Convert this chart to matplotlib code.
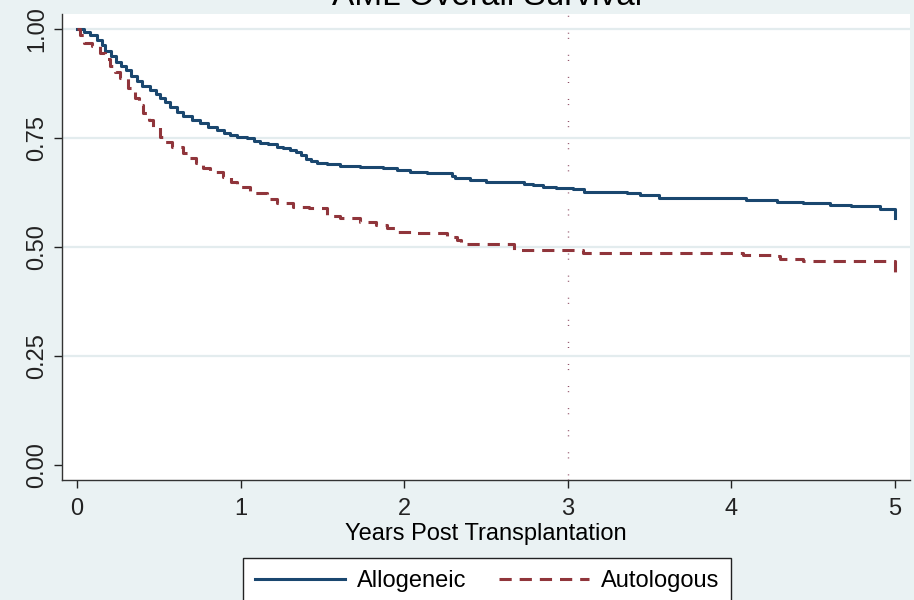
import matplotlib.pyplot as plt
from matplotlib.lines import Line2D

plt.rcParams['font.family'] = ['Liberation Sans', 'DejaVu Sans']

# Kaplan-Meier step estimates, years vs. surviving fraction
allo_years = [0.00, 0.04, 0.08, 0.12, 0.15, 0.17, 0.21, 0.24, 0.27, 0.30,
              0.33, 0.365, 0.40, 0.446, 0.48, 0.507, 0.54, 0.568, 0.61, 0.65,
              0.70, 0.752, 0.80, 0.854, 0.90, 0.935, 0.98, 1.037, 1.08, 1.12,
              1.17, 1.22, 1.26, 1.30, 1.34, 1.37, 1.40, 1.43, 1.465, 1.526,
              1.61, 1.73, 1.872, 1.954, 2.035, 2.137, 2.29, 2.31, 2.40, 2.50,
              2.73, 2.79, 2.85, 2.93, 3.03, 3.10, 3.36, 3.44, 3.56, 4.09,
              4.28, 4.44, 4.60, 4.73, 4.91, 5.00]
allo_surv = [1.000, 0.992, 0.985, 0.975, 0.962, 0.950, 0.937, 0.925, 0.915, 0.905,
             0.893, 0.880, 0.870, 0.860, 0.850, 0.841, 0.832, 0.822, 0.810, 0.800,
             0.791, 0.784, 0.776, 0.768, 0.762, 0.757, 0.753, 0.749, 0.744, 0.739,
             0.735, 0.730, 0.726, 0.722, 0.717, 0.710, 0.702, 0.697, 0.693, 0.690,
             0.686, 0.683, 0.680, 0.677, 0.672, 0.669, 0.663, 0.658, 0.654, 0.650,
             0.645, 0.642, 0.638, 0.635, 0.632, 0.627, 0.623, 0.619, 0.613, 0.608,
             0.604, 0.600, 0.596, 0.593, 0.588, 0.566]

auto_years = [0.00, 0.02, 0.04, 0.09, 0.14, 0.17, 0.20, 0.23, 0.26, 0.31,
              0.355, 0.38, 0.405, 0.44, 0.467, 0.507, 0.54, 0.579, 0.65, 0.69,
              0.73, 0.77, 0.813, 0.894, 0.94, 0.976, 1.06, 1.08, 1.16, 1.22,
              1.32, 1.42, 1.526, 1.61, 1.73, 1.83, 1.893, 1.954, 2.056, 2.18,
              2.26, 2.32, 2.35, 2.67, 3.09, 4.07, 4.26, 4.30, 4.44, 5.00]
auto_surv = [1.000, 0.985, 0.967, 0.961, 0.944, 0.930, 0.914, 0.900, 0.887, 0.864,
             0.841, 0.825, 0.807, 0.790, 0.776, 0.753, 0.740, 0.730, 0.715, 0.703,
             0.692, 0.682, 0.673, 0.661, 0.650, 0.638, 0.625, 0.623, 0.611, 0.600,
             0.592, 0.589, 0.570, 0.566, 0.558, 0.550, 0.543, 0.535, 0.533, 0.531,
             0.522, 0.516, 0.507, 0.493, 0.486, 0.482, 0.479, 0.472, 0.468, 0.443]

x_ticks = [0, 1, 2, 3, 4, 5]
y_ticks = [0.00, 0.25, 0.50, 0.75, 1.00]
marker_year = 3

navy = '#1a476f'
maroon = '#90353b'
bg = '#eaf2f3'

fig = plt.figure(figsize=(9.14, 6.0), dpi=100, facecolor=bg)
ax = fig.add_axes([62 / 914, 120 / 600, 848 / 914, 466 / 600])
ax.set_facecolor('white')

# light horizontal grid, none at zero
for y in y_ticks[1:]:
    ax.axhline(y, color='#e3ecee', lw=1.6, zorder=0)

ax.axvline(marker_year, color='#8c4a62', lw=1.0,
           linestyle=(0, (0.7, 3.0, 0.7, 11.5)), zorder=1)

ax.plot(allo_years, allo_surv, drawstyle='steps-post', color=navy, lw=2.2,
        label='Allogeneic', zorder=3)
ax.plot(auto_years, auto_surv, drawstyle='steps-post', color=maroon, lw=2.2,
        linestyle=(0, (4.0, 2.6)), label='Autologous', zorder=3)

ax.set_xlim(-0.092, 5.092)
ax.set_ylim(-0.034, 1.034)
ax.set_xticks(x_ticks)
ax.set_yticks(y_ticks)
ax.set_xticklabels([str(v) for v in x_ticks])
ax.set_yticklabels(['%.2f' % v for v in y_ticks], rotation=90, va='center')
ax.tick_params(axis='both', labelsize=17, colors='#222222', length=6, width=1)
ax.tick_params(axis='x', pad=7)
ax.tick_params(axis='y', pad=4)

for side in ['top', 'right']:
    ax.spines[side].set_visible(False)
for side in ['left', 'bottom']:
    ax.spines[side].set_color('#333333')
    ax.spines[side].set_linewidth(1.0)

ax.set_xlabel('Years Post Transplantation', fontsize=17, labelpad=2)

fig.text(487 / 914, 1 - 5 / 600, 'AML Overall Survival', fontsize=24,
         ha='center', va='baseline')

handles = [Line2D([], [], color=navy, lw=2.2),
           Line2D([], [], color=maroon, lw=2.2, linestyle=(0, (4.0, 2.6)))]
leg = fig.legend(handles, ['Allogeneic', 'Autologous'], loc='upper center',
                 bbox_to_anchor=(487 / 914, 1 - 558 / 600), ncol=2,
                 fontsize=17, frameon=True, fancybox=False, framealpha=1,
                 edgecolor='#222222', handlelength=3.8, handletextpad=0.5,
                 columnspacing=1.4, borderpad=0.5, borderaxespad=0)
leg.get_frame().set_linewidth(1.0)

fig.savefig('out.png', dpi=100, facecolor=bg)
